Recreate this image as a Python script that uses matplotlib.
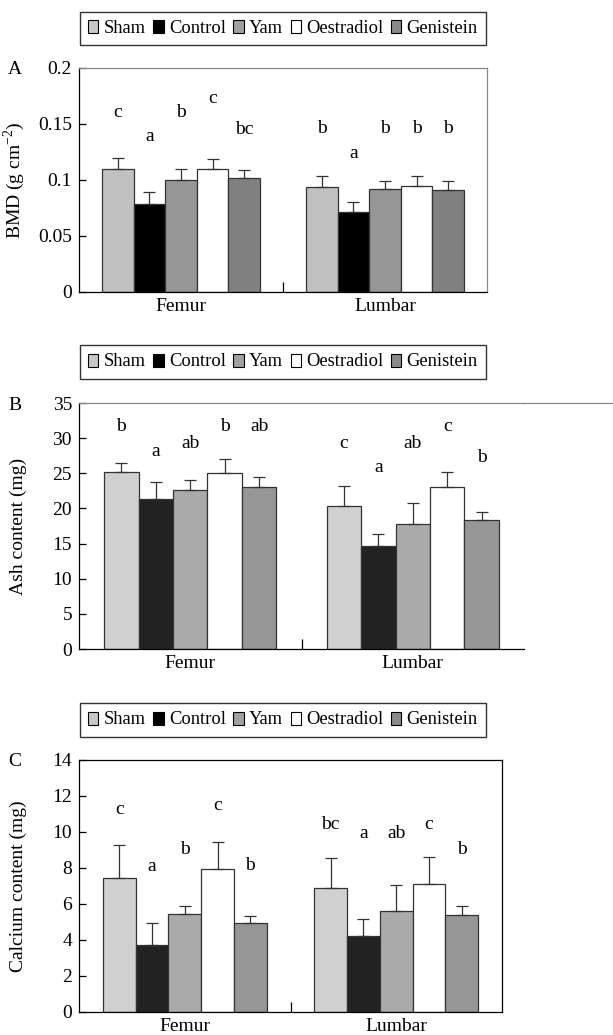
import matplotlib
matplotlib.use("Agg")
import matplotlib.pyplot as plt
from matplotlib.patches import Patch
from matplotlib.lines import Line2D
import numpy as np

plt.rcParams['font.family'] = ['Liberation Serif', 'DejaVu Serif']
plt.rcParams['mathtext.fontset'] = 'custom'
plt.rcParams['mathtext.rm'] = 'Liberation Serif'

groups = ["Sham", "Control", "Yam", "Oestradiol", "Genistein"]
sites = ["Femur", "Lumbar"]

# Panel A: BMD (g cm^-2)
bmd_femur = [0.110, 0.079, 0.100, 0.110, 0.102]
bmd_femur_err = [0.010, 0.010, 0.010, 0.009, 0.007]
bmd_lumbar = [0.094, 0.071, 0.092, 0.095, 0.091]
bmd_lumbar_err = [0.010, 0.009, 0.007, 0.009, 0.008]
bmd_letters_femur = ["c", "a", "b", "c", "bc"]
bmd_letters_lumbar = ["b", "a", "b", "b", "b"]
bmd_letter_y_femur = [0.160, 0.139, 0.160, 0.173, 0.145]
bmd_letter_y_lumbar = [0.146, 0.124, 0.146, 0.146, 0.146]

# Panel B: Ash content (mg)
ash_femur = [25.2, 21.4, 22.6, 25.0, 23.0]
ash_femur_err = [1.3, 2.3, 1.5, 2.1, 1.5]
ash_lumbar = [20.4, 14.7, 17.8, 23.0, 18.4]
ash_lumbar_err = [2.8, 1.7, 3.0, 2.2, 1.1]
ash_letters_femur = ["b", "a", "ab", "b", "ab"]
ash_letters_lumbar = ["c", "a", "ab", "c", "b"]
ash_letter_y_femur = [31.6, 28.1, 29.3, 31.6, 31.6]
ash_letter_y_lumbar = [29.3, 25.8, 29.3, 31.6, 27.2]

# Panel C: Calcium content (mg)
ca_femur = [7.47, 3.74, 5.46, 7.95, 4.94]
ca_femur_err = [1.80, 1.20, 0.44, 1.52, 0.37]
ca_lumbar = [6.88, 4.25, 5.60, 7.10, 5.38]
ca_lumbar_err = [1.65, 0.93, 1.48, 1.50, 0.52]
ca_letters_femur = ["c", "a", "b", "c", "b"]
ca_letters_lumbar = ["bc", "a", "ab", "c", "b"]
ca_letter_y_femur = [11.26, 8.1, 9.04, 11.45, 8.16]
ca_letter_y_lumbar = [10.39, 9.9, 9.9, 10.39, 9.04]

colors_A = ["#c0c0c0", "#000000", "#969696", "#ffffff", "#808080"]
colors_BC = ["#d0d0d0", "#222222", "#aaaaaa", "#ffffff", "#969696"]
legend_colors = ["#c8c8c8", "#000000", "#a0a0a0", "#ffffff", "#8a8a8a"]

W, H = 613, 1035
fig = plt.figure(figsize=(W / 100, H / 100), dpi=100)

FS = 14
LFS = 13.3


def panel(rect, femur, femur_err, lumbar, lumbar_err, lf, ll, lyf, lyl,
          colors, ylim, yticks, yticklabels, ylabel, bw):
    ax = fig.add_axes(rect)
    x = np.arange(len(sites))
    n = len(groups)
    for i in range(n):
        xi = x + (i - (n - 1) / 2) * bw
        vals = [femur[i], lumbar[i]]
        errs = [femur_err[i], lumbar_err[i]]
        ax.bar(xi, vals, width=bw, color=colors[i], edgecolor="#333333",
               linewidth=0.9, zorder=2)
        ax.errorbar(xi, vals, yerr=[[0, 0], errs], fmt="none", ecolor="#333333",
                    elinewidth=0.9, capsize=4, capthick=0.9, zorder=3)
        ax.text(xi[0], lyf[i], lf[i], ha="center", va="center", fontsize=FS)
        ax.text(xi[1], lyl[i], ll[i], ha="center", va="center", fontsize=FS)
    ax.set_xlim(-0.5, 1.5)
    ax.set_ylim(*ylim)
    ax.set_yticks(yticks)
    ax.set_yticklabels(yticklabels, fontsize=FS)
    ax.set_xticks(x)
    ax.set_xticklabels(sites, fontsize=FS)
    ax.tick_params(axis="x", which="major", length=0, pad=4)
    ax.set_xticks([0.5], minor=True)
    ax.tick_params(axis="x", which="minor", direction="in", length=7, width=0.9)
    ax.tick_params(axis="y", direction="in", length=5, width=0.9, pad=5)
    ax.set_ylabel(ylabel, fontsize=FS)
    ax.yaxis.set_label_coords((27 - 79) / (rect[2] * W), 0.5)
    for s in ax.spines.values():
        s.set_linewidth(0.9)
    return ax


bw = 0.155

axA = panel([79 / W, 1 - 292 / H, 408 / W, 224 / H],
            bmd_femur, bmd_femur_err, bmd_lumbar, bmd_lumbar_err,
            bmd_letters_femur, bmd_letters_lumbar, bmd_letter_y_femur, bmd_letter_y_lumbar,
            colors_A, (0, 0.2), [0, 0.05, 0.1, 0.15, 0.2],
            ["0", "0.05", "0.1", "0.15", "0.2"], "BMD (g cm$^{-2}$)", bw)
axA.spines["top"].set_color("#888888")
axA.spines["right"].set_color("#888888")

axB = panel([79 / W, 1 - 649 / H, 445 / W, 246 / H],
            ash_femur, ash_femur_err, ash_lumbar, ash_lumbar_err,
            ash_letters_femur, ash_letters_lumbar, ash_letter_y_femur, ash_letter_y_lumbar,
            colors_BC, (0, 35), [0, 5, 10, 15, 20, 25, 30, 35],
            ["0", "5", "10", "15", "20", "25", "30", "35"], "Ash content (mg)", bw)
axB.spines["right"].set_visible(False)
axB.spines["top"].set_color("#888888")
fig.add_artist(Line2D([(79 + 445) / W, 1.0], [1 - 403 / H, 1 - 403 / H],
                      transform=fig.transFigure, color="#888888", linewidth=0.9))

axC = panel([79 / W, 1 - 1012 / H, 423 / W, 252 / H],
            ca_femur, ca_femur_err, ca_lumbar, ca_lumbar_err,
            ca_letters_femur, ca_letters_lumbar, ca_letter_y_femur, ca_letter_y_lumbar,
            colors_BC, (0, 14), [0, 2, 4, 6, 8, 10, 12, 14],
            ["0", "2", "4", "6", "8", "10", "12", "14"], "Calcium content (mg)", bw)

# Legends
handles = [Patch(facecolor=c, edgecolor="#000000", linewidth=0.8) for c in legend_colors]
for yc in [28.5, 362, 720]:
    fig.legend(handles, groups, loc="center", bbox_to_anchor=(283 / W, 1 - yc / H),
               ncol=5, fontsize=LFS, frameon=True, fancybox=False, edgecolor="#000000",
               handlelength=0.55, handleheight=0.7, handletextpad=0.3,
               columnspacing=0.4, borderpad=0.45, borderaxespad=0)

# Panel letters
for lab, yc in [("A", 70), ("B", 405), ("C", 762)]:
    fig.text(15 / W, 1 - yc / H, lab, ha="center", va="center", fontsize=FS)

fig.savefig("out.png", dpi=100)
